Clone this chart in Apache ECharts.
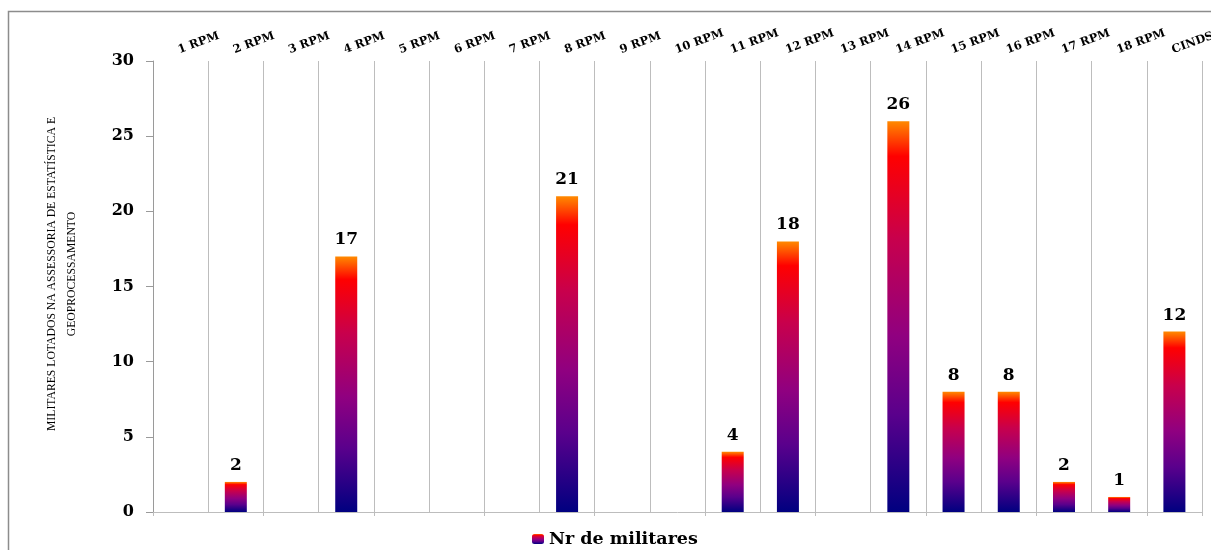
<!DOCTYPE html>
<html>
<head>
<meta charset="utf-8">
<title>Nr de militares</title>
<script src="https://cdn.jsdelivr.net/npm/echarts@6/dist/echarts.min.js"></script>
<style>
  html, body { margin: 0; padding: 0; background: #fff; }
  #chart { width: 1211px; height: 550px; }
</style>
</head>
<body>
<div id="chart"></div>
<script>
// Regiões e unidade
const categories = ['1 RPM', '2 RPM', '3 RPM', '4 RPM', '5 RPM', '6 RPM', '7 RPM', '8 RPM', '9 RPM',
  '10 RPM', '11 RPM', '12 RPM', '13 RPM', '14 RPM', '15 RPM', '16 RPM', '17 RPM', '18 RPM', 'CINDS'];
// Militares lotados em cada uma
const militares = [0, 2, 0, 17, 0, 0, 0, 21, 0, 0, 4, 18, 0, 26, 8, 8, 2, 1, 12];
const yTicks = { min: 0, max: 30, interval: 5 };
const seriesName = 'Nr de militares';
const axisTitle = 'MILITARES LOTADOS NA ASSESSORIA DE ESTATÍSTICA E\nGEOPROCESSAMENTO';

const boldFont = '"DejaVu Serif", "Liberation Serif", serif';
const gridColor = '#bdbdbd';

const barGradient = new echarts.graphic.LinearGradient(0, 0, 0, 1, [
  { offset: 0, color: '#ff8a00' },
  { offset: 0.09, color: '#ff0000' },
  { offset: 0.3, color: '#c8004c' },
  { offset: 0.55, color: '#900080' },
  { offset: 0.75, color: '#5a008c' },
  { offset: 1, color: '#000080' }
]);

const chart = echarts.init(document.getElementById('chart'), null, { renderer: 'canvas' });

chart.setOption({
  backgroundColor: '#ffffff',
  animation: false,
  grid: { left: 153, right: 9, top: 61, bottom: 38, outerBoundsMode: 'none' },
  graphic: [
    {
      type: 'rect',
      shape: { x: 8.5, y: 11.5, width: 1400, height: 700 },
      style: { fill: 'none', stroke: '#8c8c8c', lineWidth: 1.5 },
      silent: true
    },
    {
      type: 'text',
      x: 62,
      y: 274,
      rotation: Math.PI / 2,
      style: {
        text: axisTitle,
        font: '11.7px "Liberation Serif", "Times New Roman", serif',
        fill: '#000',
        align: 'center',
        verticalAlign: 'middle',
        lineHeight: 20
      },
      silent: true
    }
  ],
  legend: {
    left: 527,
    top: 525,
    itemWidth: 12,
    itemHeight: 10,
    itemGap: 10,
    data: [seriesName],
    textStyle: { fontFamily: boldFont, fontWeight: 'bold', fontSize: 17.5, color: '#000' }
  },
  xAxis: [
    {
      type: 'category',
      data: categories,
      position: 'bottom',
      axisLine: { show: true, lineStyle: { color: gridColor, width: 1 } },
      axisTick: { show: true, length: 4, lineStyle: { color: gridColor } },
      axisLabel: { show: false },
      splitLine: { show: false }
    },
    {
      type: 'category',
      data: categories,
      position: 'top',
      axisLine: { show: false },
      axisTick: { show: false },
      axisLabel: {
        show: true,
        interval: 0,
        rotate: -20,
        margin: 5,
        align: 'left',
        verticalAlign: 'bottom',
        fontFamily: boldFont,
        fontWeight: 'bold',
        fontSize: 11.5,
        color: '#000'
      },
      splitLine: { show: true, lineStyle: { color: gridColor, width: 1 } }
    }
  ],
  yAxis: {
    type: 'value',
    min: yTicks.min,
    max: yTicks.max,
    interval: yTicks.interval,
    axisLine: { show: true, lineStyle: { color: '#9a9a9a', width: 1 } },
    axisTick: { show: true, length: 7, lineStyle: { color: '#9a9a9a' } },
    axisLabel: {
      margin: 19,
      fontFamily: boldFont,
      fontWeight: 'bold',
      fontSize: 16,
      color: '#000'
    },
    splitLine: { show: false }
  },
  series: [
    {
      name: seriesName,
      type: 'bar',
      xAxisIndex: 0,
      data: militares,
      barWidth: 22,
      itemStyle: {
        color: barGradient,
        borderWidth: 0
      },
      label: {
        show: true,
        position: 'top',
        distance: 8,
        fontFamily: boldFont,
        fontWeight: 'bold',
        fontSize: 17,
        color: '#000',
        formatter: p => (p.value ? String(p.value) : '')
      }
    }
  ]
});
</script>
</body>
</html>
